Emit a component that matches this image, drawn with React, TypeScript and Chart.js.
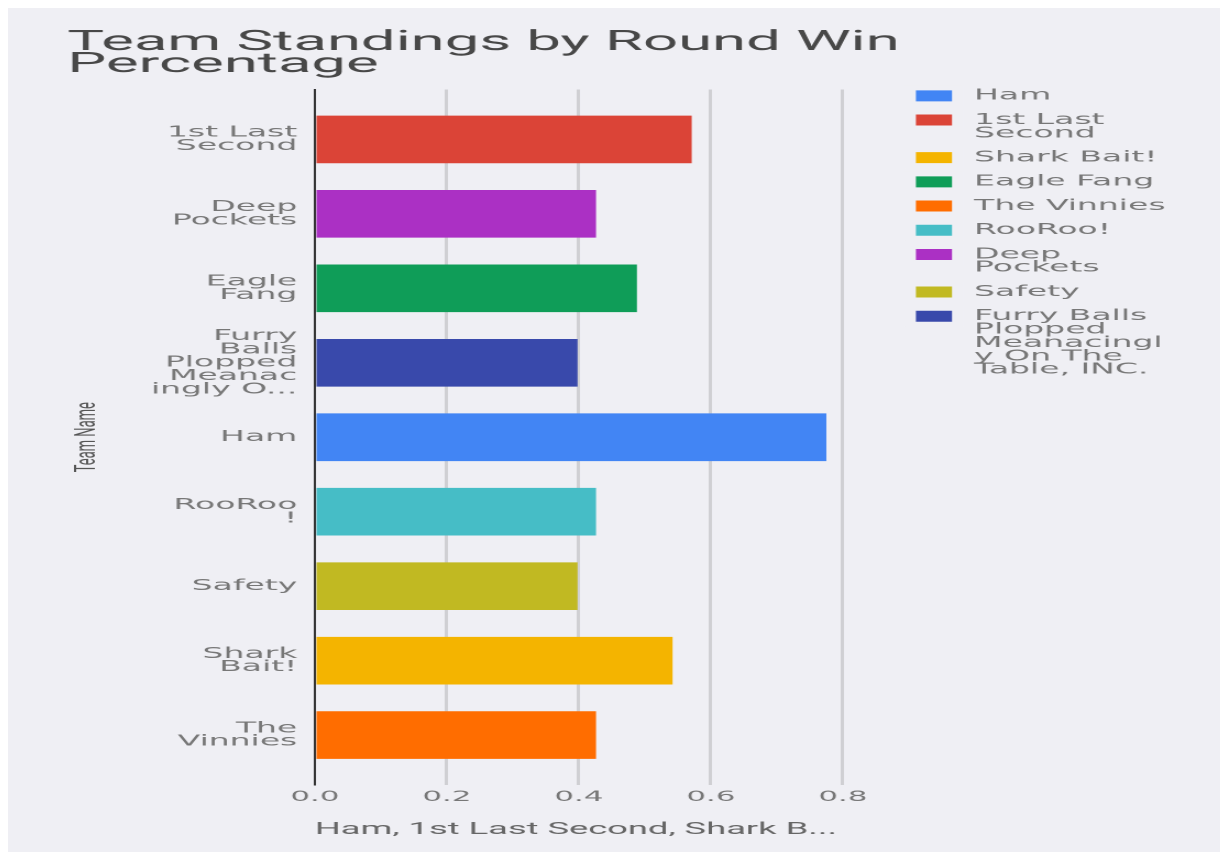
import React, { useEffect, useRef } from "react";
import { Chart, registerables } from "chart.js";

Chart.register(...registerables);

// ---- data ----
const TEAMS = [
  "1st Last Second",
  "Deep Pockets",
  "Eagle Fang",
  "Furry Balls Plopped Meanacingly On The Table, INC.",
  "Ham",
  "RooRoo!",
  "Safety",
  "Shark Bait!",
  "The Vinnies",
];
const WIN_PCT = [0.571, 0.426, 0.488, 0.398, 0.775, 0.426, 0.398, 0.542, 0.426];
const TEAM_COLORS = [
  "#db4437",
  "#ab30c4",
  "#0f9d58",
  "#3949ab",
  "#4285f4",
  "#46bdc6",
  "#c1b922",
  "#f4b400",
  "#ff6d00",
];
const TEAM_TICK_LABELS = [
  ["1st Last", "Second"],
  ["Deep", "Pockets"],
  ["Eagle", "Fang"],
  ["Furry", "Balls", "Plopped", "Meanac", "ingly O..."],
  ["Ham"],
  ["RooRoo", "!"],
  ["Safety"],
  ["Shark", "Bait!"],
  ["The", "Vinnies"],
];
const LEGEND_ORDER = [
  "Ham",
  "1st Last Second",
  "Shark Bait!",
  "Eagle Fang",
  "The Vinnies",
  "RooRoo!",
  "Deep Pockets",
  "Safety",
  "Furry Balls Plopped Meanacingly On The Table, INC.",
];
const LEGEND_LABELS = [
  ["Ham"],
  ["1st Last", "Second"],
  ["Shark Bait!"],
  ["Eagle Fang"],
  ["The Vinnies"],
  ["RooRoo!"],
  ["Deep", "Pockets"],
  ["Safety"],
  ["Furry Balls", "Plopped", "Meanacingl", "y On The", "Table, INC."],
];
const X_TICKS = [0, 0.2, 0.4, 0.6, 0.8];
const TITLE_LINES = ["Team Standings by Round Win", "Percentage"];
const X_TITLE = "Ham, 1st Last Second, Shark B...";
const Y_TITLE = "Team Name";

// ---- canvas geometry (logical canvas is stretched horizontally by CSS) ----
const LOGICAL_W = 555;
const LOGICAL_H = 844;
const STRETCH = 2.2;
const BG = "#efeff4";

export default function App() {
  const ref = useRef<HTMLCanvasElement | null>(null);

  useEffect(() => {
    const canvas = ref.current;
    if (!canvas) return;
    document.documentElement.style.overflow = "hidden";
    document.body.style.overflow = "hidden";

    const datasets = LEGEND_ORDER.map((name) => {
      const i = TEAMS.indexOf(name);
      return {
        label: name,
        data: [{ x: WIN_PCT[i], y: i }],
        backgroundColor: TEAM_COLORS[i],
        borderWidth: 0,
        grouped: false,
        barPercentage: 0.64,
        categoryPercentage: 1,
      };
    });

    const chart = new Chart(canvas, {
      type: "bar",
      data: { datasets } as any,
      options: {
        indexAxis: "y",
        responsive: false,
        animation: false,
        devicePixelRatio: 2,
        layout: { padding: { left: 27, right: 23.65, top: 0, bottom: 0 } },
        scales: {
          x: {
            type: "linear",
            position: "bottom",
            min: 0,
            max: 0.8662,
            bounds: "data",
            offset: false,
            afterBuildTicks: (s: any) => {
              s.ticks = X_TICKS.map((v) => ({ value: v }));
            },
            afterFit: (s: any) => {
              s.height = 67;
            },
            grid: {
              offset: false,
              color: (ctx: any) =>
                ctx.tick && ctx.tick.value === 0 ? "rgba(0,0,0,0)" : "#cfcfd3",
              lineWidth: 1.5,
              drawTicks: false,
            },
            border: { display: false },
            ticks: {
              autoSkip: false,
              maxRotation: 0,
              padding: 4,
              color: "#777",
              font: { family: "DejaVu Sans", size: 14 },
              callback: (v: any) => Number(v).toFixed(1),
            },
            title: {
              display: true,
              text: X_TITLE,
              align: "start",
              color: "#666",
              font: { family: "Roboto", size: 16.5 },
              padding: { top: 0, bottom: 12.1 },
            },
          },
          y: {
            type: "linear",
            reverse: true,
            min: -0.67,
            max: 8.67,
            bounds: "data",
            offset: false,
            afterBuildTicks: (s: any) => {
              s.ticks = TEAMS.map((_, i) => ({ value: i }));
            },
            afterFit: (s: any) => {
              s.width = 112.5;
            },
            grid: { display: false, drawTicks: false, offset: false },
            border: { display: true, color: "#333", width: 1 },
            ticks: {
              autoSkip: false,
              padding: 8,
              color: "#777",
              font: { family: "DejaVu Sans", size: 15, lineHeight: "13.4px" },
              callback: (v: any) => TEAM_TICK_LABELS[Math.round(Number(v))] as any,
            },
            title: {
              display: true,
              text: Y_TITLE,
              color: "#555",
              font: { family: "Roboto", size: 13 },
              padding: { top: 1.3, bottom: 0 },
            },
          },
        },
        plugins: {
          title: {
            display: true,
            text: TITLE_LINES,
            align: "start",
            color: "#484848",
            font: { family: "Roboto", size: 28, weight: "normal", lineHeight: "22px" },
            padding: { top: 24, bottom: 13.5 },
          },
          legend: {
            position: "right",
            align: "start",
            maxWidth: 132,
            title: {
              display: true,
              text: " ",
              font: { size: 10, lineHeight: 1 },
              padding: { top: 59, bottom: 0 },
            },
            labels: {
              boxWidth: 21.5,
              boxHeight: 16.1,
              padding: 10.8,
              color: "#777",
              font: { family: "DejaVu Sans", size: 15, lineHeight: "13.4px" },
              generateLabels: (c: any) =>
                (Chart.defaults.plugins.legend.labels.generateLabels as any)(c).map(
                  (item: any, k: number) => ({
                    ...item,
                    text: LEGEND_LABELS[k],
                    strokeStyle: BG,
                    lineWidth: 5.1,
                  })
                ),
            },
          },
          tooltip: { enabled: false },
        },
      } as any,
    });

    return () => chart.destroy();
  }, []);

  return (
    <canvas
      ref={ref}
      width={LOGICAL_W}
      height={LOGICAL_H}
      style={{
        width: `${LOGICAL_W * STRETCH}px`,
        height: `${LOGICAL_H}px`,
        background: BG,
        display: "block",
      }}
    />
  );
}
